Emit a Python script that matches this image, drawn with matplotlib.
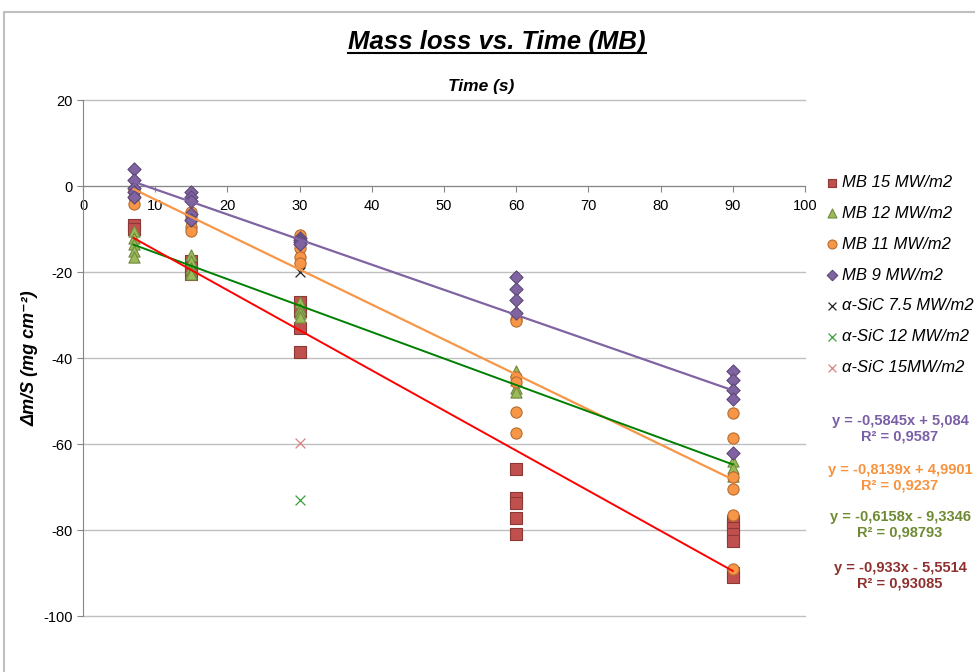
import matplotlib
matplotlib.use("Agg")
import matplotlib.pyplot as plt
import numpy as np
from matplotlib.lines import Line2D

plt.rcParams['font.family'] = ['Liberation Sans', 'DejaVu Sans']
plt.rcParams['axes.unicode_minus'] = False

# ---- data ----
mb15_x = [7, 7, 15, 15, 15, 30, 30, 30, 30, 60, 60, 60, 60, 60, 90, 90, 90, 90, 90, 90]
mb15_y = [-9, -10, -17.5, -19, -20.5, -27, -29, -33, -38.5,
          -65.8, -72.6, -73.7, -77.2, -81, -78, -79.5, -81, -82.5, -90, -91]

mb12_x = [7, 7, 7, 7, 7, 15, 15, 15, 15, 15, 30, 30, 30, 30, 60, 60, 60, 60, 90, 90, 90]
mb12_y = [-10.5, -12, -13.5, -15, -16.5, -16, -17.5, -19, -20, -20.5,
          -27, -28.5, -29.5, -30.5, -43, -45, -47, -48, -64, -65.5, -67.5]

mb11_x = [7, 7, 7, 15, 15, 15, 15, 15, 30, 30, 30, 30, 30,
          60, 60, 60, 60, 60, 60, 90, 90, 90, 90, 90, 90]
mb11_y = [-1, -2.5, -4.3, -6, -7, -8, -9.5, -10.5, -11.5, -12.5, -14.5, -16.5, -18,
          -31, -31.5, -44.5, -45.5, -52.5, -57.5, -52.8, -58.6, -67.7, -70.5, -76.5, -89]

mb9_x = [7, 7, 7, 7, 7, 15, 15, 15, 15, 15, 30, 30, 30, 30,
         60, 60, 60, 60, 90, 90, 90, 90, 90]
mb9_y = [4, 1.5, -0.5, -1.5, -2.5, -1.5, -2.5, -3.5, -6.5, -8, -12, -12.5, -13, -13.5,
         -21.2, -24, -26.5, -29.5, -43, -45, -47.5, -49.5, -62]

sic75_x, sic75_y = [30], [-20]
sic12_x, sic12_y = [30], [-73]
sic15_x, sic15_y = [30], [-59.8]

# trend lines (slope, intercept) as printed on the chart
fit_range = [7, 90]
fit_mb9 = [-0.5845, 5.084]
fit_mb11 = [-0.8139, 4.9901]
fit_mb12 = [-0.6158, -9.3346]
fit_mb15 = [-0.933, -5.5514]

eq_texts = [("y = -0,5845x + 5,084\nR² = 0,9587", '#7A5EA6'),
            ("y = -0,8139x + 4,9901\nR² = 0,9237", '#F7923E'),
            ("y = -0,6158x - 9,3346\nR² = 0,98793", '#6E8B32'),
            ("y = -0,933x - 5,5514\nR² = 0,93085", '#8E302E')]

# ---- figure ----
fig = plt.figure(figsize=(9.75, 6.72), dpi=100)
ax = fig.add_axes([83 / 975, 1 - 616 / 672, (805 - 83) / 975, (616 - 100) / 672])

ms = 65
ax.scatter(mb15_x, mb15_y, marker='s', s=ms, c='#C0504D', edgecolors='#8C3836',
           linewidths=0.8, label='MB 15 MW/m2', zorder=3)
ax.scatter(mb12_x, mb12_y, marker='^', s=ms, c='#9BBB59', edgecolors='#71893F',
           linewidths=0.8, label='MB 12 MW/m2', zorder=3)
ax.scatter(mb11_x, mb11_y, marker='o', s=ms, c='#F79646', edgecolors='#B66D31',
           linewidths=0.8, label='MB 11 MW/m2', zorder=3)
ax.scatter(mb9_x, mb9_y, marker='D', s=45, c='#8064A2', edgecolors='#5C4776',
           linewidths=0.8, label='MB 9 MW/m2', zorder=3)
ax.scatter(sic75_x, sic75_y, marker='x', s=50, c='#222222', linewidths=0.9,
           label='α-SiC 7.5 MW/m2', zorder=3)
ax.scatter(sic12_x, sic12_y, marker='x', s=50, c='#3AA03A', linewidths=0.9,
           label='α-SiC 12 MW/m2', zorder=3)
ax.scatter(sic15_x, sic15_y, marker='x', s=50, c='#D98280', linewidths=0.9,
           label='α-SiC 15MW/m2', zorder=3)

xs = np.array(fit_range)
ax.plot(xs, np.polyval(fit_mb9, xs), color='#8064A2', lw=1.6, zorder=4)
ax.plot(xs, np.polyval(fit_mb11, xs), color='#F79646', lw=1.6, zorder=4)
ax.plot(xs, np.polyval(fit_mb12, xs), color='#008000', lw=1.4, zorder=4)
ax.plot(xs, np.polyval(fit_mb15, xs), color='#FF0000', lw=1.4, zorder=4)

ax.set_xlim(0, 100)
ax.set_ylim(-100, 20)
ax.set_xticks(range(0, 101, 10))
ax.set_yticks(range(-100, 21, 20))
ax.yaxis.grid(True, color='#BFBFBF', lw=1)
for gl in ax.get_ygridlines():
    gl.set_clip_on(False)
ax.set_axisbelow(True)
for s in ['top', 'right']:
    ax.spines[s].set_visible(False)
ax.spines['bottom'].set_position(('data', 0))
ax.spines['bottom'].set_color('#868686')
ax.spines['left'].set_color('#868686')
ax.tick_params(axis='both', colors='#868686', labelcolor='black', labelsize=10.5,
               length=4)
ax.tick_params(axis='x', pad=5)

leg = ax.legend(loc='upper left', bbox_to_anchor=(824 / 975, 1 - 175 / 672),
                bbox_transform=fig.transFigure, frameon=False, fontsize=12,
                labelspacing=0.95, handletextpad=0.1, handlelength=1.0,
                markerscale=0.8, borderaxespad=0, borderpad=0)
for t in leg.get_texts():
    t.set_fontstyle('italic')

# titles
title = fig.text(497 / 975, 1 - 42 / 672, 'Mass loss vs. Time (MB)', ha='center',
                 va='center', fontsize=18.5, fontweight='bold', fontstyle='italic')
fig.text(481 / 975, 1 - 87 / 672, 'Time (s)', ha='center', va='center',
         fontsize=12.5, fontweight='bold', fontstyle='italic')
fig.text(30 / 975, 1 - 358 / 672, 'Δm/S (mg cm⁻²)', ha='center', va='center',
         rotation=90, fontsize=13, fontweight='bold', fontstyle='italic')

eq_y = [429, 478, 525, 576]
for (txt, col), yy in zip(eq_texts, eq_y):
    fig.text(900 / 975, 1 - yy / 672, txt, ha='center', va='center', fontsize=10.5,
             fontweight='bold', color=col, linespacing=1.1)

# underline the title
fig.canvas.draw()
bb = title.get_window_extent()
fig.add_artist(Line2D([bb.x0, bb.x1], [bb.y0 + 1, bb.y0 + 1], transform=None,
                      color='black', lw=1.5))

# outer chart border (top and left edge visible)
fig.add_artist(Line2D([4 / 975, 4 / 975, 1], [0, 1 - 12 / 672, 1 - 12 / 672],
                      transform=fig.transFigure, color='#BFBFBF', lw=1.5))

fig.savefig('out.png', dpi=100)
